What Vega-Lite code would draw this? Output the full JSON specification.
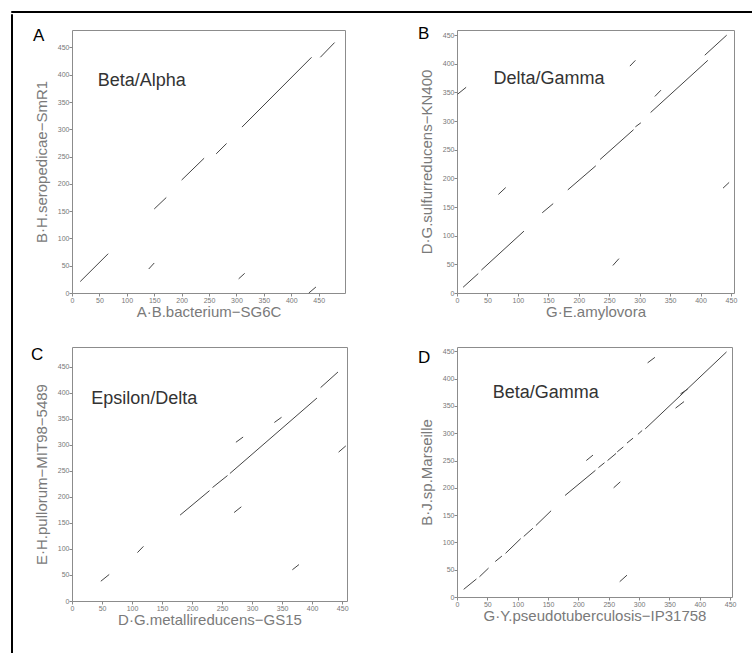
{
  "$schema": "https://vega.github.io/schema/vega-lite/v6.json",
  "padding": {"left": 10, "top": 10, "right": 0, "bottom": 0},
  "autosize": {"type": "pad"},
  "background": "white",
  "config": {
    "view": {"stroke": "#8c8c8c", "strokeWidth": 1},
    "axis": {"grid": false, "domain": false, "tickColor": "#888", "tickSize": 3, "labelFontSize": 7, "labelColor": "#777", "labelFont": "Liberation Sans", "labelPadding": 0, "labelOverlap": false, "labelFlush": false, "titleFont": "Liberation Sans", "titleFontSize": 15, "titleFontWeight": "normal", "titleColor": "#7a7a7a"},
    "axisX": {"titlePadding": 1},
    "axisY": {"titlePadding": 8},
    "title": {"font": "Liberation Sans", "fontWeight": "normal", "fontSize": 17, "color": "#000", "anchor": "start", "frame": "group", "offset": 0, "baseline": "alphabetic"}
  },
  "spacing": 0,
  "vconcat": [
    {"width": 741, "height": 1, "data": {"values": []}, "mark": {"type": "point"}, "encoding": {}, "view": {"stroke": "#000", "strokeWidth": 1}},
    {
      "spacing": 17,
      "hconcat": [
        {"width": 1, "height": 641, "data": {"values": []}, "mark": {"type": "point"}, "encoding": {}, "view": {"stroke": "#000", "strokeWidth": 1}},
        {
          "spacing": 9,
          "vconcat": [
            {"width": 1, "height": 1, "data": {"values": []}, "mark": {"type": "point"}, "encoding": {}, "view": {"stroke": null}},
            {
              "columns": 2,
              "bounds": "flush",
              "spacing": {"row": 54, "column": 110},
              "concat": [
                {
                  "width": 273, "height": 263,
                  "title": {"text": "A", "dx": -39, "dy": 19},
                  "encoding": {
                    "x": {"field": "x1", "type": "quantitative", "scale": {"domain": [0, 498], "nice": false, "zero": false}, "axis": {"values": [0, 50, 100, 150, 200, 250, 300, 350, 400, 450], "title": "A·B.bacterium−SG6C"}},
                    "y": {"field": "y1", "type": "quantitative", "scale": {"domain": [0, 482], "nice": false, "zero": false}, "axis": {"values": [0, 50, 100, 150, 200, 250, 300, 350, 400, 450], "title": "B·H.seropedicae−SmR1"}}
                  },
                  "layer": [
                    {
                      "data": {"values": [
                        {"x1": 15, "y1": 21, "x2": 66, "y2": 72},
                        {"x1": 140, "y1": 44, "x2": 150, "y2": 55},
                        {"x1": 150, "y1": 154, "x2": 172, "y2": 175},
                        {"x1": 200, "y1": 207, "x2": 241, "y2": 247},
                        {"x1": 263, "y1": 255, "x2": 282, "y2": 274},
                        {"x1": 310, "y1": 304, "x2": 437, "y2": 432},
                        {"x1": 453, "y1": 432, "x2": 479, "y2": 459},
                        {"x1": 304, "y1": 26, "x2": 315, "y2": 36},
                        {"x1": 432, "y1": 0, "x2": 445, "y2": 11}
                      ]},
                      "mark": {"type": "rule", "color": "#444", "strokeWidth": 1},
                      "encoding": {"x2": {"field": "x2"}, "y2": {"field": "y2"}}
                    },
                    {
                      "data": {"values": [{"x1": 47, "y1": 388, "label": "Beta/Alpha"}]},
                      "mark": {"type": "text", "align": "left", "baseline": "middle", "fontSize": 18, "font": "Liberation Sans", "color": "#333"},
                      "encoding": {"text": {"field": "label"}}
                    }
                  ]
                },
                {
                  "width": 277, "height": 263,
                  "title": {"text": "B", "dx": -39, "dy": 17},
                  "encoding": {
                    "x": {"field": "x1", "type": "quantitative", "scale": {"domain": [0, 455], "nice": false, "zero": false}, "axis": {"values": [0, 50, 100, 150, 200, 250, 300, 350, 400, 450], "title": "G·E.amylovora"}},
                    "y": {"field": "y1", "type": "quantitative", "scale": {"domain": [0, 459], "nice": false, "zero": false}, "axis": {"values": [0, 50, 100, 150, 200, 250, 300, 350, 400, 450], "title": "D·G.sulfurreducens−KN400"}}
                  },
                  "layer": [
                    {
                      "data": {"values": [
                        {"x1": 10, "y1": 10, "x2": 35, "y2": 34},
                        {"x1": 40, "y1": 40, "x2": 110, "y2": 108},
                        {"x1": 140, "y1": 140, "x2": 158, "y2": 156},
                        {"x1": 182, "y1": 180, "x2": 228, "y2": 222},
                        {"x1": 235, "y1": 233, "x2": 290, "y2": 285},
                        {"x1": 293, "y1": 290, "x2": 302, "y2": 297},
                        {"x1": 318, "y1": 315, "x2": 412, "y2": 406},
                        {"x1": 407, "y1": 415, "x2": 443, "y2": 450},
                        {"x1": 68, "y1": 172, "x2": 80, "y2": 184},
                        {"x1": 256, "y1": 48, "x2": 266, "y2": 60},
                        {"x1": 437, "y1": 183, "x2": 447, "y2": 193},
                        {"x1": 1, "y1": 347, "x2": 15, "y2": 359},
                        {"x1": 284, "y1": 396, "x2": 293, "y2": 406},
                        {"x1": 325, "y1": 343, "x2": 335, "y2": 354}
                      ]},
                      "mark": {"type": "rule", "color": "#444", "strokeWidth": 1},
                      "encoding": {"x2": {"field": "x2"}, "y2": {"field": "y2"}}
                    },
                    {
                      "data": {"values": [{"x1": 60, "y1": 374, "label": "Delta/Gamma"}]},
                      "mark": {"type": "text", "align": "left", "baseline": "middle", "fontSize": 18, "font": "Liberation Sans", "color": "#333"},
                      "encoding": {"text": {"field": "label"}}
                    }
                  ]
                },
                {
                  "width": 275, "height": 254,
                  "title": {"text": "C", "dx": -41, "dy": 21},
                  "encoding": {
                    "x": {"field": "x1", "type": "quantitative", "scale": {"domain": [0, 458], "nice": false, "zero": false}, "axis": {"values": [0, 50, 100, 150, 200, 250, 300, 350, 400, 450], "title": "D·G.metallireducens−GS15"}},
                    "y": {"field": "y1", "type": "quantitative", "scale": {"domain": [0, 488], "nice": false, "zero": false}, "axis": {"values": [0, 50, 100, 150, 200, 250, 300, 350, 400, 450], "title": "E·H.pullorum−MIT98−5489"}}
                  },
                  "layer": [
                    {
                      "data": {"values": [
                        {"x1": 48, "y1": 38, "x2": 62, "y2": 51},
                        {"x1": 109, "y1": 93, "x2": 119, "y2": 105},
                        {"x1": 180, "y1": 165, "x2": 229, "y2": 212},
                        {"x1": 234, "y1": 218, "x2": 259, "y2": 241},
                        {"x1": 263, "y1": 245, "x2": 408, "y2": 390},
                        {"x1": 414, "y1": 410, "x2": 443, "y2": 440},
                        {"x1": 273, "y1": 305, "x2": 285, "y2": 315},
                        {"x1": 337, "y1": 343, "x2": 349, "y2": 353},
                        {"x1": 270, "y1": 170, "x2": 282, "y2": 181},
                        {"x1": 367, "y1": 60, "x2": 378, "y2": 70},
                        {"x1": 444, "y1": 286, "x2": 456, "y2": 298}
                      ]},
                      "mark": {"type": "rule", "color": "#444", "strokeWidth": 1},
                      "encoding": {"x2": {"field": "x2"}, "y2": {"field": "y2"}}
                    },
                    {
                      "data": {"values": [{"x1": 32, "y1": 388, "label": "Epsilon/Delta"}]},
                      "mark": {"type": "text", "align": "left", "baseline": "middle", "fontSize": 18, "font": "Liberation Sans", "color": "#333"},
                      "encoding": {"text": {"field": "label"}}
                    }
                  ]
                },
                {
                  "width": 275, "height": 250,
                  "title": {"text": "D", "dx": -39, "dy": 24},
                  "encoding": {
                    "x": {"field": "x1", "type": "quantitative", "scale": {"domain": [0, 453], "nice": false, "zero": false}, "axis": {"values": [0, 50, 100, 150, 200, 250, 300, 350, 400, 450], "title": "G·Y.pseudotuberculosis−IP31758"}},
                    "y": {"field": "y1", "type": "quantitative", "scale": {"domain": [0, 458], "nice": false, "zero": false}, "axis": {"values": [0, 50, 100, 150, 200, 250, 300, 350, 400, 450], "title": "B·J.sp.Marseille"}}
                  },
                  "layer": [
                    {
                      "data": {"values": [
                        {"x1": 11, "y1": 14, "x2": 32, "y2": 33},
                        {"x1": 37, "y1": 37, "x2": 52, "y2": 53},
                        {"x1": 63, "y1": 65, "x2": 74, "y2": 75},
                        {"x1": 80, "y1": 80, "x2": 105, "y2": 107},
                        {"x1": 110, "y1": 111, "x2": 125, "y2": 126},
                        {"x1": 130, "y1": 131, "x2": 155, "y2": 158},
                        {"x1": 178, "y1": 186, "x2": 228, "y2": 232},
                        {"x1": 233, "y1": 237, "x2": 243, "y2": 246},
                        {"x1": 248, "y1": 250, "x2": 262, "y2": 263},
                        {"x1": 264, "y1": 266, "x2": 274, "y2": 275},
                        {"x1": 280, "y1": 282, "x2": 290, "y2": 291},
                        {"x1": 298, "y1": 298, "x2": 305, "y2": 305},
                        {"x1": 310, "y1": 308, "x2": 444, "y2": 449},
                        {"x1": 213, "y1": 250, "x2": 224, "y2": 260},
                        {"x1": 258, "y1": 200, "x2": 269, "y2": 211},
                        {"x1": 268, "y1": 28, "x2": 280, "y2": 40},
                        {"x1": 314, "y1": 429, "x2": 326, "y2": 439},
                        {"x1": 360, "y1": 346, "x2": 374, "y2": 358},
                        {"x1": 368, "y1": 372, "x2": 380, "y2": 381}
                      ]},
                      "mark": {"type": "rule", "color": "#444", "strokeWidth": 1},
                      "encoding": {"x2": {"field": "x2"}, "y2": {"field": "y2"}}
                    },
                    {
                      "data": {"values": [{"x1": 59, "y1": 374, "label": "Beta/Gamma"}]},
                      "mark": {"type": "text", "align": "left", "baseline": "middle", "fontSize": 18, "font": "Liberation Sans", "color": "#333"},
                      "encoding": {"text": {"field": "label"}}
                    }
                  ]
                }
              ]
            }
          ]
        }
      ]
    }
  ]
}
